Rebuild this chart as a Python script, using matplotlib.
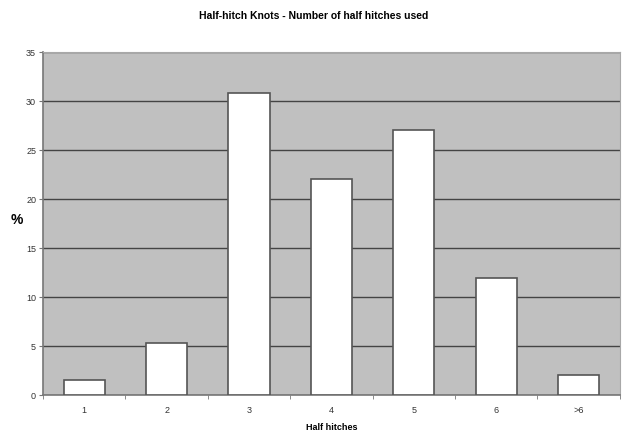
import matplotlib.pyplot as plt
import numpy as np

# Half-hitch knot survey: share of knots by number of half hitches
categories = ['1', '2', '3', '4', '5', '6', '>6']
percent = [1.5, 5.3, 30.8, 22.0, 27.0, 11.9, 2.0]
y_ticks = [0, 5, 10, 15, 20, 25, 30, 35]

plt.rcParams['font.family'] = ['Liberation Sans', 'DejaVu Sans']

fig = plt.figure(figsize=(6.28, 4.32), dpi=100)
ax = fig.add_axes([0.0685, 0.0856, 0.9185, 0.794])

x = np.arange(len(categories))
ax.set_facecolor('#c0c0c0')
ax.bar(x, percent, width=0.5, color='white', edgecolor='#555555', linewidth=1.2, zorder=3)

ax.set_xlim(-0.5, len(categories) - 0.5)
ax.set_ylim(0, 35)
ax.set_yticks(y_ticks)
ax.set_yticklabels([str(t) for t in y_ticks], fontsize=6.5, color='#333333')
ax.yaxis.grid(True, color='#444444', linewidth=1.0, zorder=1)

# category labels in the middle, tick marks on the boundaries
ax.set_xticks(x)
ax.set_xticklabels(categories, fontsize=6.5, color='#333333')
ax.tick_params(axis='x', length=0, pad=8)
ax.set_xticks(np.arange(len(categories) + 1) - 0.5, minor=True)
ax.tick_params(axis='x', which='minor', length=3, color='#777777', direction='out')
ax.tick_params(axis='y', length=3, color='#777777', direction='out', pad=2)

for side in ['top', 'right']:
    ax.spines[side].set_color('#a8a8a8')
for side in ['left', 'bottom']:
    ax.spines[side].set_color('#777777')
    ax.spines[side].set_linewidth(1.2)

ax.set_xlabel('Half hitches', fontsize=6.5, fontweight='bold', labelpad=6)
ax.set_ylabel('%', fontsize=10, fontweight='bold', rotation=0, va='center')
ax.yaxis.set_label_coords(-0.045, 0.51)
fig.suptitle('Half-hitch Knots - Number of half hitches used', fontsize=7.5, fontweight='bold', y=0.975)

plt.savefig('out.png', dpi=100)
